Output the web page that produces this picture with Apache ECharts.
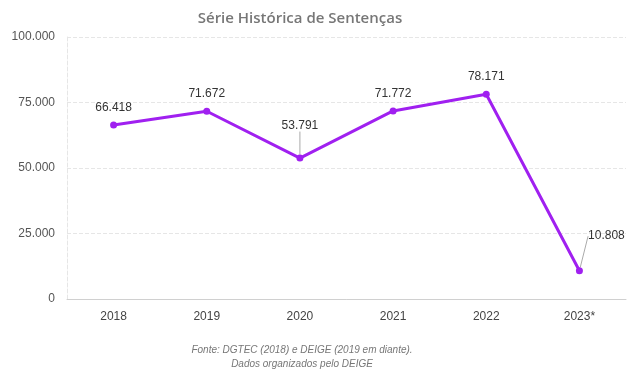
<!DOCTYPE html>
<html>
<head>
<meta charset="utf-8">
<script src="https://cdn.jsdelivr.net/npm/echarts@6/dist/echarts.min.js"></script>
<style>
  html, body { margin: 0; padding: 0; background: #fff; }
  #chart { width: 629px; height: 377px; }
</style>
</head>
<body>
<div id="chart"></div>
<script>
// dados
const anos = ['2018', '2019', '2020', '2021', '2022', '2023*'];
const sentencas = [66418, 71672, 53791, 71772, 78171, 10808];
const yTicks = [0, 25000, 50000, 75000, 100000];

// deslocamento dos rótulos que têm linha guia
const labelShift = { 2: [0, -15], 5: [27, -17] };

const fmt = (v) => String(v).replace(/\B(?=(\d{3})+(?!\d))/g, '.');
const FONT = 'Liberation Sans';

const chart = echarts.init(document.getElementById('chart'));

chart.setOption({
  animation: false,
  textStyle: { fontFamily: FONT },
  title: [
    {
      text: 'Série Histórica de Sentenças',
      left: 295, top: 6, textAlign: 'center',
      textStyle: { fontSize: 15, fontWeight: 600, color: '#777', fontFamily: 'Open Sans' }
    },
    {
      text: 'Fonte: DGTEC (2018) e DEIGE (2019 em diante).\nDados organizados pelo DEIGE',
      left: 297, top: 338, textAlign: 'center',
      textStyle: { fontSize: 10, fontStyle: 'italic', fontWeight: 'normal', color: '#777', lineHeight: 14 }
    }
  ],
  grid: { left: 67, right: 3, top: 37, bottom: 78 },
  xAxis: {
    type: 'category',
    data: anos,
    axisLine: { lineStyle: { color: '#d0d0d0' } },
    axisTick: { show: false },
    axisLabel: { color: '#444', fontSize: 12, margin: 12 }
  },
  yAxis: {
    type: 'value',
    min: yTicks[0],
    max: yTicks[yTicks.length - 1],
    interval: 25000,
    axisLine: { show: true, lineStyle: { color: '#e6e6e6', type: 'dashed' } },
    axisTick: { show: false },
    axisLabel: { color: '#555', fontSize: 12, margin: 12, formatter: fmt },
    splitLine: { lineStyle: { color: '#e6e6e6', type: 'dashed' } }
  },
  series: [{
    type: 'line',
    data: sentencas.map((v, i) => ({
      value: v,
      labelLine: { show: labelShift[i] !== undefined }
    })),
    symbol: 'circle',
    symbolSize: 7,
    lineStyle: { color: '#a020f0', width: 3 },
    itemStyle: { color: '#a020f0' },
    label: {
      show: true, position: 'top', distance: 8,
      color: '#333', fontSize: 12,
      formatter: (p) => fmt(p.value)
    },
    labelLine: { lineStyle: { color: '#aaa', width: 1 } },
    labelLayout: (p) => {
      const s = labelShift[p.dataIndex];
      return s ? { dx: s[0], dy: s[1] } : {};
    }
  }]
});
</script>
</body>
</html>
